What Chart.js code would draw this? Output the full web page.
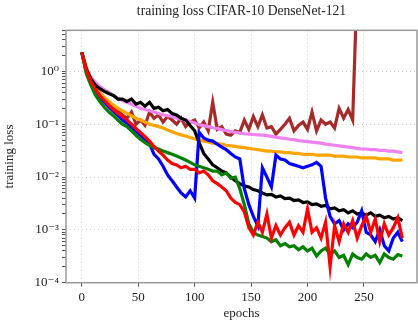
<!DOCTYPE html>
<html>
<head>
<meta charset="utf-8">
<script src="https://cdn.jsdelivr.net/npm/chart.js@4/dist/chart.umd.min.js"></script>
<style>
html, body { margin: 0; padding: 0; background: #fff; }
</style>
</head>
<body>
<canvas id="lossChart" width="418" height="329"></canvas>
<script>
// epochs sampled every 4 epochs
var epochs = [0, 4, 8, 12, 16, 20, 24, 28, 32, 36,
  40, 44, 48, 52, 56, 60, 64, 68, 72, 76,
  80, 84, 88, 92, 96, 100, 104, 108, 112, 116,
  120, 124, 128, 132, 136, 140, 144, 148, 152, 156,
  160, 164, 168, 172, 176, 180, 184, 188, 192, 196,
  200, 204, 208, 212, 216, 220, 224, 228, 232, 236,
  240, 244, 248, 252, 256, 260, 264, 268, 272, 276,
  280, 284];

var lossRed = [2.3, 1.05, 0.65, 0.46, 0.35, 0.28, 0.23, 0.19, 0.16, 0.14,
  0.12, 0.1, 0.083, 0.07, 0.058, 0.048, 0.038, 0.031, 0.026, 0.021,
  0.018, 0.017, 0.015, 0.016, 0.014, 0.014, 0.012, 0.013, 0.011, 0.0085,
  0.0075, 0.0065, 0.0055, 0.004, 0.0033, 0.003, 0.0022, 0.0011, 0.0008, 0.0014,
  0.0009, 0.002, 0.0007, 0.0012, 0.0008, 0.0011, 0.0014, 0.0008, 0.0012, 0.0009,
  0.0025, 0.0009, 0.0011, 0.0007, 0.0014, 0.0002, 0.0012, 0.0006, 0.0013, 0.0009,
  0.0015, 0.0007, 0.0012, 0.0018, 0.0009, 0.0016, 0.0006, 0.0013, 0.0008, 0.0011,
  0.0017, 0.0007];

var lossGreen = [2.3, 0.9, 0.55, 0.36, 0.27, 0.21, 0.17, 0.145, 0.12, 0.1,
  0.09, 0.075, 0.062, 0.052, 0.045, 0.04, 0.036, 0.034, 0.031, 0.029,
  0.027, 0.025, 0.023, 0.021, 0.019, 0.017, 0.016, 0.015, 0.014, 0.013,
  0.013, 0.011, 0.012, 0.0095, 0.01, 0.006, 0.003, 0.0013, 0.0009, 0.0008,
  0.00075, 0.0007, 0.0006, 0.00065, 0.0005, 0.00055, 0.00048, 0.0005, 0.00042, 0.00048,
  0.0004, 0.00045, 0.00032, 0.0004, 0.00045, 0.00035, 0.0004, 0.0003, 0.00033, 0.00022,
  0.00035, 0.0003, 0.00028, 0.00035, 0.0003, 0.00033, 0.00024, 0.00035, 0.0003, 0.00028,
  0.00034, 0.00032];

var lossBlue = [2.3, 1.0, 0.62, 0.43, 0.33, 0.26, 0.21, 0.175, 0.145, 0.12,
  0.105, 0.088, 0.074, 0.062, 0.052, 0.043, 0.027, 0.022, 0.016, 0.011,
  0.0085, 0.0065, 0.005, 0.0042, 0.0055, 0.004, 0.07, 0.055, 0.05, 0.048,
  0.042, 0.037, 0.033, 0.028, 0.024, 0.022, 0.006, 0.003, 0.0018, 0.0012,
  0.015, 0.01, 0.0065, 0.026, 0.022, 0.021, 0.018, 0.017, 0.016, 0.015,
  0.016, 0.017, 0.019, 0.016, 0.004, 0.0018, 0.0013, 0.0015, 0.001, 0.0013,
  0.0011, 0.0014, 0.0023, 0.0009, 0.0008, 0.0006, 0.001, 0.0005, 0.0004, 0.0007,
  0.0009, 0.0006];

var lossBlack = [2.3, 1.1, 0.72, 0.55, 0.47, 0.42, 0.38, 0.35, 0.3, 0.3,
  0.27, 0.3, 0.24, 0.26, 0.22, 0.26, 0.2, 0.21, 0.18, 0.19,
  0.16, 0.15, 0.13, 0.12, 0.095, 0.075, 0.045, 0.028, 0.022, 0.017,
  0.015, 0.013, 0.012, 0.01, 0.0085, 0.0075, 0.0068, 0.0065, 0.0058, 0.0055,
  0.005, 0.0046, 0.0047, 0.0042, 0.0044, 0.0039, 0.004, 0.0036, 0.0037, 0.0033,
  0.0034, 0.003, 0.0031, 0.0028, 0.0029, 0.0025, 0.0026, 0.0023, 0.0024, 0.0021,
  0.0023, 0.002, 0.0021, 0.0019, 0.0021, 0.0018, 0.0019, 0.0017, 0.0018, 0.0016,
  0.0017, 0.0015];

var lossOrange = [2.3, 1.2, 0.72, 0.52, 0.4, 0.32, 0.27, 0.23, 0.2, 0.18,
  0.16, 0.145, 0.13, 0.12, 0.11, 0.1, 0.095, 0.09, 0.085, 0.078,
  0.072, 0.067, 0.063, 0.06, 0.056, 0.053, 0.05, 0.048, 0.046, 0.044,
  0.043, 0.042, 0.04, 0.039, 0.038, 0.037, 0.036, 0.035, 0.034, 0.033,
  0.032, 0.031, 0.031, 0.03, 0.03, 0.029, 0.029, 0.028, 0.028, 0.027,
  0.027, 0.027, 0.026, 0.026, 0.026, 0.026, 0.025, 0.025, 0.025, 0.024,
  0.024, 0.024, 0.023, 0.023, 0.023, 0.023, 0.022, 0.022, 0.022, 0.021,
  0.021, 0.021];

var lossViolet = [2.3, 1.15, 0.78, 0.62, 0.52, 0.45, 0.4, 0.35, 0.31, 0.28,
  0.26, 0.24, 0.22, 0.2, 0.19, 0.18, 0.17, 0.16, 0.15, 0.145,
  0.14, 0.13, 0.125, 0.12, 0.113, 0.105, 0.098, 0.094, 0.09, 0.086,
  0.083, 0.079, 0.076, 0.073, 0.07, 0.068, 0.066, 0.065, 0.064, 0.063,
  0.062, 0.061, 0.059, 0.057, 0.055, 0.054, 0.052, 0.051, 0.049, 0.048,
  0.047, 0.046, 0.045, 0.044, 0.042, 0.041, 0.04, 0.039, 0.038, 0.037,
  0.036, 0.035, 0.034, 0.034, 0.033, 0.033, 0.032, 0.032, 0.031, 0.031,
  0.03, 0.029];

// brown run diverges around epoch 242
var lossBrown = [2.3, 1.1, 0.68, 0.5, 0.38, 0.3, 0.25, 0.21, 0.18, 0.15,
  0.13, 0.17, 0.1, 0.12, 0.095, 0.17, 0.13, 0.15, 0.11, 0.14,
  0.12, 0.1, 0.13, 0.09, 0.11, 0.12, 0.085, 0.11, 0.075, 0.26,
  0.08, 0.09, 0.065, 0.062, 0.075, 0.07, 0.12, 0.08, 0.14, 0.09,
  0.15, 0.085, 0.09, 0.065, 0.08, 0.1, 0.13, 0.075, 0.095, 0.11,
  0.08, 0.17, 0.075, 0.12, 0.1, 0.11, 0.085, 0.2, 0.13, 0.19,
  0.12, 50];

var xTicks = [0, 50, 100, 150, 200, 250];
var yPowers = [-4, -3, -2, -1, 0];
var yLabels = ["10\u207B\u2074", "10\u207B\u00B3", "10\u207B\u00B2", "10\u207B\u00B9", "10\u2070"];

var serif = "'Liberation Serif', 'DejaVu Serif', serif";

function points(vals) {
  return vals.map(function (v, i) { return { x: epochs[i], y: v }; });
}

function isDecade(v) {
  var p = Math.log10(v);
  return Math.abs(p - Math.round(p)) < 1e-6;
}

var boxPlugin = {
  id: "box",
  afterDatasetsDraw: function (chart) {
    var a = chart.chartArea;
    var c = chart.ctx;
    c.save();
    c.strokeStyle = "#999";
    c.lineWidth = 1.5;
    c.strokeRect(a.left, a.top, a.right - a.left, a.bottom - a.top);
    c.restore();
  }
};

var ctx = document.getElementById("lossChart").getContext("2d");
var lossChart = new Chart(ctx, {
  type: "line",
  data: {
    datasets: [
      { label: "red", data: points(lossRed), borderColor: "#ff0000" },
      { label: "green", data: points(lossGreen), borderColor: "#008000" },
      { label: "blue", data: points(lossBlue), borderColor: "#0000ff" },
      { label: "black", data: points(lossBlack), borderColor: "#000000" },
      { label: "orange", data: points(lossOrange), borderColor: "#ffa500" },
      { label: "violet", data: points(lossViolet), borderColor: "#ee82ee" },
      { label: "brown", data: points(lossBrown), borderColor: "#a52a2a" }
    ]
  },
  options: {
    responsive: false,
    animation: false,
    layout: { padding: { left: 0, right: 1, top: 0, bottom: 0 } },
    elements: {
      line: { borderWidth: 3.2, tension: 0, fill: false },
      point: { radius: 0 }
    },
    plugins: {
      legend: { display: false },
      tooltip: { enabled: false },
      title: {
        display: true,
        fullSize: false,
        text: "training loss CIFAR-10 DenseNet-121",
        color: "#222",
        font: { family: serif, size: 13.6, weight: "normal" },
        padding: { top: 3, bottom: 11 }
      }
    },
    scales: {
      x: {
        type: "linear",
        min: -14,
        max: 297,
        afterBuildTicks: function (scale) {
          scale.ticks = xTicks.map(function (v) { return { value: v }; });
        },
        afterFit: function (scale) { scale.height = 46.3; },
        ticks: {
          color: "#222",
          font: { family: serif, size: 13 },
          maxRotation: 0,
          padding: 3
        },
        grid: {
          color: "#cfcfcf",
          lineWidth: 1,
          tickColor: "#555",
          tickLength: 4
        },
        border: { display: false, dash: [1, 3] },
        title: {
          display: true,
          text: "epochs",
          color: "#222",
          font: { family: serif, size: 13 },
          padding: { top: 8, bottom: 8 }
        }
      },
      y: {
        type: "logarithmic",
        min: 1e-4,
        max: 6,
        afterBuildTicks: function (scale) {
          var t = [];
          yPowers.forEach(function (p) {
            for (var m = 1; m <= 9; m++) {
              var v = m * Math.pow(10, p);
              if (v <= 6) t.push({ value: v });
            }
          });
          scale.ticks = t;
        },
        afterFit: function (scale) { scale.width = 66; },
        ticks: {
          autoSkip: false,
          color: "#222",
          font: { family: serif, size: 13 },
          padding: 3,
          callback: function (value) {
            if (!isDecade(value)) return "";
            var i = yPowers.indexOf(Math.round(Math.log10(value)));
            return i >= 0 ? yLabels[i] : "";
          }
        },
        grid: {
          color: function (c) {
            return c.tick && isDecade(c.tick.value) ? "#cfcfcf" : "rgba(0,0,0,0)";
          },
          lineWidth: 1,
          tickColor: "#555",
          tickLength: 4
        },
        border: { display: false, dash: [1, 3] },
        title: {
          display: true,
          text: "training loss",
          color: "#222",
          font: { family: serif, size: 13 },
          padding: { top: 2, bottom: 2 }
        }
      }
    }
  },
  plugins: [boxPlugin]
});
</script>
</body>
</html>
